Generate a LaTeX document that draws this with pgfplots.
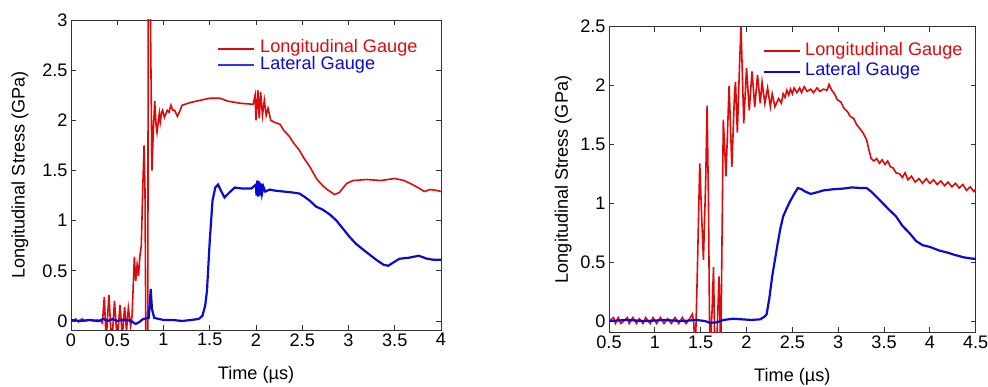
\documentclass[border=0pt]{standalone}
\usepackage{pgfplots}
\pgfplotsset{compat=1.18}
\usepackage{fontspec}
\setmainfont{Liberation Sans}
\definecolor{cred}{RGB}{222,10,10}
\definecolor{cblue}{RGB}{10,10,215}
\definecolor{lblue}{RGB}{50,50,255}

\pgfplotstableread{
t v
0 0.01
0.03 0.0
0.05 0.02
0.08 -0.01
0.1 0.01
0.12 0.02
0.15 0.0
0.2 0.01
0.25 0.0
0.28 0.01
0.32 0.0
0.34 -0.02
0.36 0.24
0.38 -0.2
0.41 0.26
0.44 -0.25
0.47 0.2
0.5 -0.2
0.53 0.16
0.555 -0.15
0.58 0.14
0.6 -0.1
0.62 0.13
0.645 -0.05
0.66 0.05
0.685 0.64
0.7 0.4
0.715 0.56
0.73 0.45
0.745 0.65
0.76 0.75
0.775 1.3
0.79 1.75
0.8 1.3
0.81 -0.3
0.83 -0.3
0.835 3.4
0.855 3.4
0.875 1.5
0.89 1.9
0.905 2.19
0.92 1.95
0.93 1.88
0.945 2.0
0.955 2.07
0.965 1.98
0.98 2.08
0.99 2.1
1.01 2.03
1.04 2.1
1.06 2.08
1.08 2.15
1.1 2.1
1.12 2.1
1.15 2.04
1.18 2.1
1.2 2.15
1.3 2.18
1.4 2.2
1.5 2.22
1.61 2.22
1.7 2.19
1.83 2.17
1.97 2.16
1.99 2.25
2.0 2.0
2.02 2.3
2.035 2.02
2.05 2.28
2.07 2.05
2.09 2.2
2.11 2.05
2.13 2.12
2.16 2.0
2.2 1.98
2.26 1.96
2.3 1.9
2.36 1.84
2.41 1.77
2.47 1.70
2.52 1.62
2.58 1.54
2.66 1.41
2.72 1.35
2.77 1.31
2.85 1.26
2.9 1.28
2.98 1.37
3.05 1.4
3.2 1.41
3.35 1.4
3.5 1.42
3.6 1.4
3.67 1.37
3.75 1.33
3.82 1.29
3.88 1.31
3.96 1.3
4.0 1.29
}\leftred

\pgfplotstableread{
t v
0 0.01
0.1 0.0
0.2 0.01
0.3 0.0
0.35 0.02
0.4 0.0
0.45 0.02
0.5 0.0
0.55 0.01
0.6 0.01
0.65 0.0
0.7 -0.03
0.74 -0.01
0.78 0.02
0.84 0.03
0.85 0.15
0.862 0.32
0.875 0.12
0.9 0.03
1.0 0.01
1.1 0.01
1.2 0.0
1.3 0.01
1.38 0.02
1.42 0.05
1.45 0.15
1.47 0.3
1.5 0.8
1.53 1.2
1.56 1.33
1.59 1.36
1.62 1.3
1.66 1.23
1.7 1.27
1.77 1.33
1.85 1.32
1.95 1.32
2.0 1.36
2.005 1.25
2.015 1.4
2.025 1.24
2.035 1.39
2.045 1.25
2.055 1.37
2.065 1.27
2.08 1.34
2.1 1.29
2.15 1.31
2.2 1.3
2.3 1.29
2.4 1.28
2.47 1.27
2.52 1.24
2.58 1.2
2.65 1.14
2.72 1.11
2.8 1.06
2.87 1.0
2.94 0.92
3.01 0.84
3.08 0.77
3.16 0.71
3.23 0.66
3.3 0.61
3.38 0.56
3.43 0.55
3.48 0.58
3.55 0.62
3.65 0.63
3.76 0.65
3.85 0.62
3.92 0.61
4.0 0.61
}\leftblue

\pgfplotstableread{
t v
0.5 0.0
0.55 0.03
0.57 -0.02
0.6 0.03
0.63 -0.02
0.66 0.0
0.7 0.03
0.72 -0.02
0.76 0.03
0.8 -0.02
0.83 0.02
0.87 -0.02
0.9 0.03
0.95 -0.02
0.98 0.03
1.02 -0.02
1.06 0.03
1.1 -0.02
1.14 0.02
1.18 -0.02
1.22 0.03
1.26 -0.02
1.3 0.03
1.34 -0.02
1.38 0.02
1.41 0.06
1.425 -0.02
1.44 -0.3
1.46 0.3
1.49 1.34
1.51 0.9
1.53 0.52
1.555 1.2
1.57 1.83
1.585 1.0
1.6 -0.3
1.625 0.1
1.64 0.46
1.655 -0.3
1.675 -0.2
1.7 0.38
1.72 -0.3
1.73 0.5
1.747 1.71
1.776 1.23
1.81 2.0
1.84 1.31
1.87 1.95
1.88 2.03
1.9 1.6
1.925 2.2
1.94 2.5
1.97 1.68
2.0 2.15
2.03 1.79
2.06 2.12
2.09 1.82
2.12 2.09
2.15 1.85
2.17 2.03
2.2 1.85
2.23 1.98
2.26 1.82
2.28 1.93
2.31 1.82
2.35 1.89
2.38 1.85
2.4 1.93
2.42 1.9
2.44 1.96
2.46 1.92
2.48 1.97
2.5 1.93
2.52 1.98
2.55 1.94
2.58 1.98
2.6 1.94
2.63 1.99
2.66 1.95
2.7 1.97
2.73 1.94
2.77 1.98
2.8 1.95
2.84 1.97
2.88 1.96
2.9 2.01
2.93 1.96
2.96 1.93
2.99 1.88
3.03 1.86
3.06 1.81
3.1 1.78
3.13 1.74
3.17 1.72
3.2 1.67
3.24 1.63
3.27 1.6
3.31 1.54
3.33 1.47
3.36 1.38
3.39 1.36
3.42 1.38
3.45 1.34
3.48 1.37
3.51 1.33
3.54 1.36
3.57 1.31
3.6 1.3
3.63 1.26
3.67 1.25
3.7 1.22
3.73 1.26
3.76 1.2
3.8 1.23
3.84 1.18
3.88 1.21
3.92 1.17
3.96 1.21
4.0 1.17
4.04 1.2
4.08 1.16
4.12 1.19
4.16 1.15
4.2 1.18
4.24 1.14
4.28 1.17
4.32 1.13
4.36 1.16
4.4 1.11
4.44 1.14
4.48 1.1
4.5 1.12
}\rightred

\pgfplotstableread{
t v
0.5 0.0
0.7 0.01
0.9 0.0
1.1 0.01
1.3 0.0
1.45 0.01
1.55 0.0
1.6 -0.015
1.68 -0.01
1.75 0.01
1.85 0.02
1.95 0.015
2.05 0.01
2.15 0.015
2.2 0.04
2.22 0.06
2.25 0.2
2.28 0.38
2.31 0.52
2.34 0.66
2.37 0.79
2.4 0.89
2.44 0.96
2.47 1.01
2.52 1.08
2.56 1.13
2.6 1.12
2.64 1.1
2.7 1.08
2.75 1.09
2.84 1.11
2.95 1.12
3.05 1.125
3.15 1.135
3.25 1.13
3.31 1.13
3.36 1.1
3.45 1.03
3.55 0.95
3.63 0.89
3.7 0.81
3.78 0.745
3.85 0.68
3.92 0.645
4.0 0.63
4.1 0.6
4.2 0.58
4.28 0.56
4.38 0.54
4.47 0.53
4.5 0.53
}\rightblue

\pgfplotsset{
  myaxis/.style={
    scale only axis,
    anchor=south west,
    font=\fontsize{18.2}{21}\selectfont,
    /pgf/number format/assume math mode=true,
    tick align=inside,
    major tick length=5bp,
    axis line style={black!80, line width=0.9bp},
    every tick/.style={black!80, line width=0.8bp},
    xlabel={Time (µs)},
    ylabel={Longitudinal Stress (GPa)},
    legend cell align=left,
    legend image code/.code={\draw[#1] (0bp,0bp) -- (36bp,0bp);},
  },
}

\begin{document}
\begin{tikzpicture}
\useasboundingbox (0,0) rectangle (988bp,387bp);
\begin{axis}[myaxis,
  at={(71bp,57bp)}, width=370bp, height=310bp,
  xmin=0, xmax=4, ymin=-0.09, ymax=3,
  xtick={0,0.5,...,4}, ytick={0,0.5,...,3},
  every axis y label/.style={at={(axis description cs:-0.138,0.5)}, rotate=90, anchor=center},
  every axis x label/.style={at={(axis description cs:0.5,-0.145)}, anchor=center},
  legend style={draw=none, fill=none, inner sep=0pt, at={(axis description cs:0.3946,0.935)}, anchor=north west,
    nodes={inner sep=0pt, text height=12.5bp, text depth=4.2bp},
    /tikz/every odd column/.append style={column sep=5bp}},
]
\addlegendimage{cred, line width=2bp}
\addlegendentry{\textcolor{cred}{Longitudinal Gauge}}
\addlegendimage{lblue, line width=1.9bp}
\addlegendentry{\textcolor{cblue}{Lateral Gauge}}
\addplot[cred, line width=1.6bp, forget plot] table[x=t,y=v] {\leftred};
\addplot[cblue, line width=2.2bp, forget plot] table[x=t,y=v] {\leftblue};
\end{axis}
\begin{axis}[myaxis,
  at={(609bp,54.7bp)}, width=366.7bp, height=305.6bp,
  xmin=0.5, xmax=4.5, ymin=-0.095, ymax=2.5,
  xtick={0.5,1,...,4.5}, ytick={0,0.5,...,2.5},
  every axis y label/.style={at={(axis description cs:-0.125,0.5)}, rotate=90, anchor=center},
  every axis x label/.style={at={(axis description cs:0.5,-0.146)}, anchor=center},
  legend style={draw=none, fill=none, inner sep=0pt, at={(axis description cs:0.42,0.948)}, anchor=north west,
    nodes={inner sep=0pt, text height=12.5bp, text depth=4.2bp}, row sep=3.8bp,
    /tikz/every odd column/.append style={column sep=4bp}},
]
\addlegendimage{cred, line width=2bp}
\addlegendentry{\textcolor{cred}{Longitudinal Gauge}}
\addlegendimage{cblue, line width=2bp}
\addlegendentry{\textcolor{cblue}{Lateral Gauge}}
\addplot[cred, line width=1.6bp, forget plot] table[x=t,y=v] {\rightred};
\addplot[cblue, line width=2.2bp, forget plot] table[x=t,y=v] {\rightblue};
\end{axis}
\end{tikzpicture}
\end{document}
